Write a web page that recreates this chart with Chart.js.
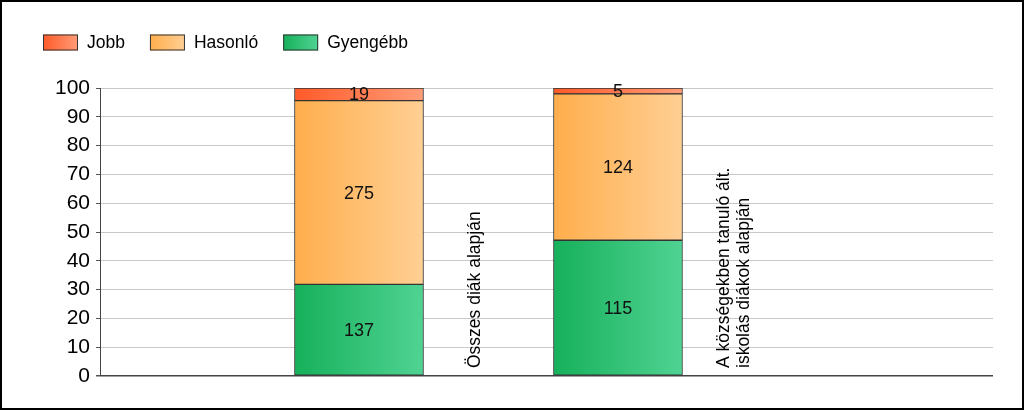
<!DOCTYPE html>
<html>
<head>
<meta charset="utf-8">
<script src="https://cdn.jsdelivr.net/npm/chart.js@4.4.1/dist/chart.umd.min.js"></script>
<style>
  body { margin: 0; background: #fff; }
  #wrap { width: 1024px; height: 410px; position: relative; }
</style>
</head>
<body>
<div id="wrap"><canvas id="chartEredmeny"></canvas></div>
<script>
/* Adatok */
const categoryLines = [
    ['Összes diák alapján'],
    ['A községekben tanuló ált.', 'iskolás diákok alapján']
];
const jobb = [19, 5];
const hasonlo = [275, 124];
const gyengebb = [137, 115];
const yTicks = [0, 10, 20, 30, 40, 50, 60, 70, 80, 90, 100];

const FONT = "'Liberation Sans', Arial, sans-serif";

// szinek: bal -> jobb szin a gradienshez
const colors = {
    'Jobb': ['#ff5a28', '#ff9c78'],
    'Hasonló': ['#ffae4c', '#ffcf94'],
    'Gyengébb': ['#16b05a', '#50d393']
};

totals = jobb.map((v, i) => v + hasonlo[i] + gyengebb[i]);
toPct = (arr) => arr.map((v, i) => ({ x: i, y: v / totals[i] * 100 }));

barGradient = (name) => (ctx) => {
    const chart = ctx.chart;
    const xs = chart.scales.x;
    if (!xs || !chart.chartArea || ctx.dataIndex === undefined) return colors[name][0];
    const cx = xs.getPixelForValue(ctx.dataIndex);
    const g = chart.ctx.createLinearGradient(cx - 65, 0, cx + 65, 0);
    g.addColorStop(0, colors[name][0]);
    g.addColorStop(1, colors[name][1]);
    return g;
};

makeDataset = (name, arr) => ({
    label: name,
    data: toPct(arr),
    counts: arr,
    backgroundColor: barGradient(name),
    borderColor: '#333',
    borderWidth: 1,
    borderSkipped: false,
    barThickness: 129
});

/* keret + jelmagyarazat + feliratok */
const drawExtras = {
    id: 'drawExtras',
    beforeDraw(chart) {
        const c = chart.ctx;
        c.save();
        c.fillStyle = '#fff';
        c.fillRect(0, 0, chart.width, chart.height);
        c.restore();
    },
    afterDatasetsDraw(chart) {
        const c = chart.ctx;
        c.save();
        // ertekek a szegmensekben
        c.font = '18px ' + FONT;
        c.fillStyle = '#111';
        c.textAlign = 'center';
        c.textBaseline = 'middle';
        chart.data.datasets.forEach((ds, di) => {
            const meta = chart.getDatasetMeta(di);
            meta.data.forEach((el, i) => {
                c.fillText(String(ds.counts[i]), el.x, (el.y + el.base) / 2 + 1);
            });
        });

        // kategoria feliratok (fuggoleges)
        c.font = '17.5px ' + FONT;
        c.fillStyle = '#000';
        c.textAlign = 'left';
        const bottom = chart.scales.y.getPixelForValue(0) - 8;
        categoryLines.forEach((lines, i) => {
            const cx = chart.scales.x.getPixelForValue(i) + 116;
            const lh = 20;
            lines.forEach((txt, li) => {
                const x = cx + (li - (lines.length - 1) / 2) * lh;
                c.save();
                c.translate(x, bottom);
                c.rotate(-Math.PI / 2);
                c.fillText(txt, 0, 0);
                c.restore();
            });
        });

        // jelmagyarazat
        const order = ['Jobb', 'Hasonló', 'Gyengébb'];
        let lx = 43;
        const ly = 34.5;
        c.font = '17.5px ' + FONT;
        c.textBaseline = 'middle';
        order.forEach((name) => {
            const g = c.createLinearGradient(lx, 0, lx + 35, 0);
            g.addColorStop(0, colors[name][0]);
            g.addColorStop(1, colors[name][1]);
            c.fillStyle = g;
            c.fillRect(lx, ly, 35, 16);
            c.strokeStyle = '#333';
            c.lineWidth = 1;
            c.strokeRect(lx + 0.5, ly + 0.5, 34, 15);
            c.fillStyle = '#000';
            c.fillText(name, lx + 44, ly + 8.5);
            lx += 44 + c.measureText(name).width + 25;
        });

        // kulso keret
        c.strokeStyle = '#000';
        c.lineWidth = 2;
        c.strokeRect(1, 1, chart.width - 2, chart.height - 2);
        c.restore();
    }
};

const ctxEl = document.getElementById('chartEredmeny');
const chartEredmeny = new Chart(ctxEl, {
    type: 'bar',
    data: {
        datasets: [
            makeDataset('Gyengébb', gyengebb),
            makeDataset('Hasonló', hasonlo),
            makeDataset('Jobb', jobb)
        ]
    },
    options: {
        responsive: true,
        maintainAspectRatio: false,
        animation: false,
        layout: {
            padding: { left: 0, right: 31, top: 88, bottom: 34 }
        },
        scales: {
            x: {
                type: 'linear',
                stacked: true,
                display: false,
                offset: false,
                grid: { offset: false },
                min: -1,
                max: 2.448
            },
            y: {
                stacked: true,
                min: 0,
                max: 100,
                afterFit: (scale) => { scale.width = 100; },
                afterBuildTicks: (scale) => { scale.ticks = yTicks.map(v => ({ value: v })); },
                border: { color: '#444', width: 1 },
                grid: {
                    color: (ctx) => (ctx.tick && ctx.tick.value === 0) ? '#444' : '#c8c8c8',
                    lineWidth: (ctx) => (ctx.tick && ctx.tick.value === 0) ? 1.5 : 1,
                    tickColor: '#555',
                    tickLength: 4
                },
                ticks: {
                    color: '#000',
                    padding: 6,
                    font: { family: FONT, size: 21 }
                }
            }
        },
        plugins: {
            legend: { display: false },
            tooltip: { enabled: false }
        }
    },
    plugins: [drawExtras]
});
</script>
</body>
</html>
